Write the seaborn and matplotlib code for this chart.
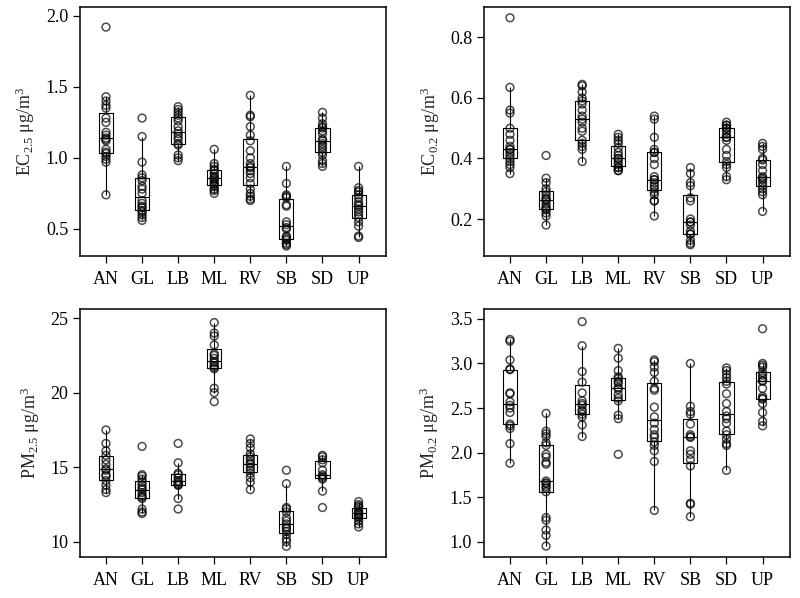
import pandas as pd
import matplotlib
matplotlib.use("Agg")
import matplotlib.pyplot as plt
import seaborn as sns

sites = ["AN", "GL", "LB", "ML", "RV", "SB", "SD", "UP"]

# EC 2.5
ec25 = {
    "AN": [1.92, 1.43, 1.40, 1.37, 1.35, 1.28, 1.25, 1.18, 1.16, 1.14, 1.13, 1.12, 1.06, 1.04, 1.03, 1.01, 0.99, 0.97, 0.74],
    "GL": [1.28, 1.15, 0.97, 0.88, 0.86, 0.84, 0.80, 0.78, 0.75, 0.70, 0.68, 0.66, 0.65, 0.63, 0.62, 0.60, 0.58, 0.56],
    "LB": [1.36, 1.34, 1.32, 1.30, 1.28, 1.26, 1.22, 1.19, 1.17, 1.15, 1.13, 1.10, 1.09, 1.02, 1.00, 0.98],
    "ML": [1.06, 0.96, 0.94, 0.92, 0.91, 0.89, 0.87, 0.86, 0.85, 0.84, 0.82, 0.81, 0.80, 0.78, 0.77, 0.75],
    "RV": [1.44, 1.30, 1.29, 1.22, 1.16, 1.12, 1.05, 1.00, 0.96, 0.94, 0.93, 0.91, 0.89, 0.86, 0.82, 0.78, 0.75, 0.73, 0.71, 0.70],
    "SB": [0.94, 0.82, 0.74, 0.73, 0.72, 0.67, 0.66, 0.55, 0.53, 0.51, 0.50, 0.45, 0.44, 0.43, 0.42, 0.40, 0.39, 0.38],
    "SD": [1.32, 1.28, 1.24, 1.22, 1.21, 1.19, 1.17, 1.13, 1.12, 1.10, 1.08, 1.06, 1.04, 1.02, 0.98, 0.96, 0.94],
    "UP": [0.94, 0.79, 0.77, 0.76, 0.74, 0.72, 0.69, 0.67, 0.66, 0.64, 0.62, 0.60, 0.58, 0.55, 0.52, 0.45, 0.44],
}

# EC 0.2
ec02 = {
    "AN": [0.865, 0.635, 0.56, 0.55, 0.50, 0.48, 0.46, 0.44, 0.43, 0.43, 0.42, 0.41, 0.40, 0.39, 0.38, 0.37, 0.35],
    "GL": [0.41, 0.335, 0.32, 0.30, 0.29, 0.28, 0.27, 0.265, 0.26, 0.25, 0.24, 0.235, 0.23, 0.22, 0.21, 0.18],
    "LB": [0.645, 0.64, 0.62, 0.60, 0.59, 0.58, 0.56, 0.54, 0.53, 0.52, 0.50, 0.49, 0.46, 0.45, 0.44, 0.43, 0.39],
    "ML": [0.48, 0.47, 0.46, 0.45, 0.435, 0.42, 0.41, 0.40, 0.40, 0.39, 0.38, 0.37, 0.37, 0.36, 0.36],
    "RV": [0.54, 0.53, 0.47, 0.43, 0.42, 0.42, 0.40, 0.38, 0.34, 0.33, 0.33, 0.32, 0.31, 0.30, 0.29, 0.28, 0.26, 0.26, 0.21],
    "SB": [0.37, 0.35, 0.32, 0.31, 0.27, 0.26, 0.20, 0.19, 0.19, 0.18, 0.16, 0.15, 0.15, 0.13, 0.12, 0.115],
    "SD": [0.52, 0.51, 0.51, 0.50, 0.50, 0.49, 0.48, 0.47, 0.47, 0.46, 0.43, 0.41, 0.39, 0.38, 0.37, 0.34, 0.33],
    "UP": [0.45, 0.44, 0.43, 0.40, 0.395, 0.38, 0.36, 0.34, 0.335, 0.33, 0.32, 0.31, 0.30, 0.29, 0.28, 0.225],
}

# PM 2.5
pm25 = {
    "AN": [17.5, 16.6, 16.1, 15.8, 15.5, 15.2, 14.9, 14.8, 14.5, 14.4, 14.1, 13.8, 13.5, 13.3],
    "GL": [16.4, 14.5, 14.4, 14.2, 14.0, 13.8, 13.6, 13.5, 13.3, 13.1, 13.0, 12.9, 12.2, 12.0, 11.9],
    "LB": [16.6, 15.3, 14.6, 14.5, 14.3, 14.1, 14.0, 13.9, 13.8, 13.8, 12.9, 12.2],
    "ML": [24.7, 24.0, 23.8, 23.2, 22.6, 22.5, 22.3, 22.1, 22.0, 21.8, 21.7, 21.6, 20.3, 20.0, 19.4],
    "RV": [16.9, 16.6, 16.3, 15.9, 15.7, 15.5, 15.3, 15.2, 15.0, 14.8, 14.6, 14.3, 14.0, 13.5],
    "SB": [14.8, 13.9, 12.3, 12.2, 12.0, 11.6, 11.4, 11.2, 11.0, 10.9, 10.7, 10.5, 10.2, 10.0, 9.7],
    "SD": [15.8, 15.7, 15.5, 15.3, 14.8, 14.5, 14.4, 14.3, 14.2, 13.4, 12.3],
    "UP": [12.7, 12.5, 12.4, 12.3, 12.1, 12.0, 11.9, 11.8, 11.7, 11.6, 11.4, 11.2, 11.0],
}

# PM 0.2
pm02 = {
    "AN": [3.27, 3.25, 3.04, 2.94, 2.93, 2.67, 2.66, 2.57, 2.53, 2.50, 2.45, 2.32, 2.30, 2.27, 2.10, 1.88],
    "GL": [2.44, 2.24, 2.21, 2.18, 2.11, 2.08, 1.98, 1.95, 1.89, 1.87, 1.68, 1.66, 1.65, 1.62, 1.60, 1.56,
           1.27, 1.24, 1.13, 1.07, 0.95],
    "LB": [3.47, 3.20, 2.91, 2.79, 2.67, 2.58, 2.55, 2.53, 2.48, 2.46, 2.43, 2.40, 2.31, 2.18],
    "ML": [3.17, 3.06, 2.92, 2.85, 2.83, 2.80, 2.78, 2.73, 2.71, 2.65, 2.61, 2.58, 2.42, 2.38, 1.98],
    "RV": [3.04, 3.02, 2.96, 2.90, 2.80, 2.72, 2.70, 2.51, 2.40, 2.33, 2.26, 2.20, 2.17, 2.12, 2.08, 2.02, 1.90, 1.35],
    "SB": [3.00, 2.52, 2.46, 2.43, 2.32, 2.20, 2.18, 2.17, 2.02, 1.98, 1.92, 1.85, 1.43, 1.42, 1.28],
    "SD": [2.95, 2.92, 2.88, 2.84, 2.80, 2.77, 2.66, 2.55, 2.46, 2.41, 2.38, 2.33, 2.24, 2.20, 2.15, 2.10, 2.08, 1.80],
    "UP": [3.39, 3.00, 2.98, 2.96, 2.90, 2.87, 2.84, 2.81, 2.80, 2.72, 2.63, 2.61, 2.60, 2.55, 2.45, 2.35, 2.30],
}

panels = [
    (ec25, r"EC$_{2.5}$ μg/m$^3$", (0.31, 2.06), [0.5, 1.0, 1.5, 2.0], "{:.1f}"),
    (ec02, r"EC$_{0.2}$ μg/m$^3$", (0.078, 0.90), [0.2, 0.4, 0.6, 0.8], "{:.1f}"),
    (pm25, r"PM$_{2.5}$ μg/m$^3$", (9.0, 25.6), [10, 15, 20, 25], "{:.0f}"),
    (pm02, r"PM$_{0.2}$ μg/m$^3$", (0.83, 3.61), [1.0, 1.5, 2.0, 2.5, 3.0, 3.5], "{:.1f}"),
]

def to_long(d):
    rows = [(s, v) for s in sites for v in d[s]]
    return pd.DataFrame(rows, columns=["site", "value"])

sns.set_theme(style="ticks")
plt.rcParams["font.family"] = ["Liberation Serif", "DejaVu Serif"]
plt.rcParams["mathtext.fontset"] = "custom"
plt.rcParams["mathtext.rm"] = "Liberation Serif"
plt.rcParams["mathtext.it"] = "Liberation Serif:italic"

fig = plt.figure(figsize=(8, 5.98), dpi=100)
rects = [
    [0.100, 0.572, 0.3825, 0.416],
    [0.605, 0.572, 0.3825, 0.416],
    [0.100, 0.069, 0.3825, 0.414],
    [0.605, 0.069, 0.3825, 0.414],
]

for (data, ylabel, ylim, yticks, fmt), rect in zip(panels, rects):
    ax = fig.add_axes(rect)
    df = to_long(data)
    sns.boxplot(data=df, x="site", y="value", order=sites, ax=ax, width=0.39,
                showfliers=False, showcaps=False, fill=False, color="black",
                linewidth=0.8)
    sns.stripplot(data=df, x="site", y="value", order=sites, ax=ax, jitter=False,
                  marker="o", facecolor="none", edgecolor="black", linewidth=1.1,
                  size=5.6, alpha=0.7)
    ax.set_xlim(-0.72, 7.76)
    ax.set_ylim(*ylim)
    ax.set_yticks(yticks)
    ax.set_yticklabels([fmt.format(t) for t in yticks])
    ax.set_xlabel("")
    ax.set_ylabel(ylabel, fontsize=13, labelpad=6)
    ax.tick_params(axis="both", labelsize=13, length=5, width=0.9, color="black",
                   labelcolor="black")
    ax.tick_params(axis="x", pad=6)
    for sp in ax.spines.values():
        sp.set_color("black")
        sp.set_linewidth(1.1)

fig.savefig("out.png", dpi=100)
